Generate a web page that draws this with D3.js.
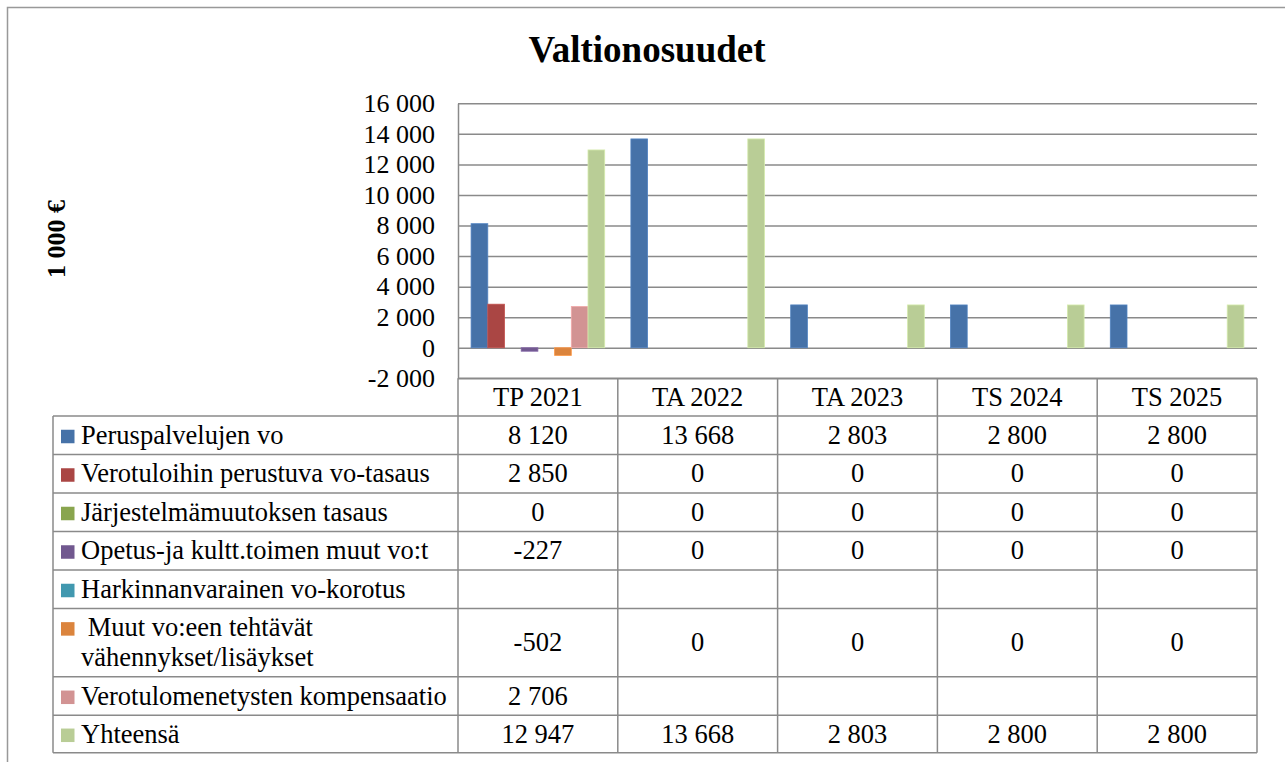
<!DOCTYPE html>
<html>
<head>
<meta charset="utf-8">
<script src="https://cdn.jsdelivr.net/npm/d3@7"></script>
<style>
  body { margin: 0; background: #fff; }
  svg text { font-family: "Liberation Serif", "Times New Roman", serif; fill: #000; }
</style>
</head>
<body>
<svg id="chart" width="1285" height="762"></svg>
<script>
// data
var categories = ["TP 2021", "TA 2022", "TA 2023", "TS 2024", "TS 2025"];
var seriesNames = [
    "Peruspalvelujen vo",
    "Verotuloihin perustuva vo-tasaus",
    "Järjestelmämuutoksen tasaus",
    "Opetus-ja kultt.toimen muut vo:t",
    "Harkinnanvarainen vo-korotus",
    " Muut vo:een tehtävät\nvähennykset/lisäykset",
    "Verotulomenetysten kompensaatio",
    "Yhteensä"
];
var peruspalvelut = [8120, 13668, 2803, 2800, 2800];
var verotuloTasaus = [2850, 0, 0, 0, 0];
var jarjestelmaTasaus = [0, 0, 0, 0, 0];
var opetusKulttuuri = [-227, 0, 0, 0, 0];
var harkinnanvarainen = [null, null, null, null, null];
var muutTehtavat = [-502, 0, 0, 0, 0];
var kompensaatio = [2706, null, null, null, null];
var yhteensa = [12947, 13668, 2803, 2800, 2800];
var yTicks = [-2000, 0, 2000, 4000, 6000, 8000, 10000, 12000, 14000, 16000];

var seriesValues = [peruspalvelut, verotuloTasaus, jarjestelmaTasaus, opetusKulttuuri,
    harkinnanvarainen, muutTehtavat, kompensaatio, yhteensa];
var colors = ["#4672A8", "#AA4644", "#89A54E", "#71588F", "#4198AF", "#DB843D", "#D29393", "#B9CD96"];

var svg = d3.select("#chart");
var lineColor = "#8a8a8a";
var fontSize = "26.5px";

var fmt = d3.formatLocale({decimal: ",", thousands: " ", grouping: [3], currency: ["", ""], minus: "-"}).format(",d");

// layout
var plotLeft = 458, plotRight = 1257;
var tableLeft = 53;
var rowHeights = [38.5, 38.5, 38.5, 38.5, 38.5, 68.3, 38.5, 37.5];

var y = d3.scaleLinear().domain([-2000, 16000]).range([378.3, 103.3]);
var x = d3.scaleBand().domain(categories).range([plotLeft, plotRight]);
var xs = d3.scaleBand().domain(d3.range(seriesNames.length)).range([0, x.bandwidth()]).paddingOuter(0.784);

// outer frame
svg.append("rect")
    .attr("x", 7.5).attr("y", 7.5)
    .attr("width", 1300).attr("height", 800)
    .attr("fill", "none").attr("stroke", "#999").attr("stroke-width", 1.5);

// title
svg.append("text")
    .attr("x", 647).attr("y", 62)
    .attr("text-anchor", "middle")
    .attr("font-size", "37px").attr("font-weight", "bold")
    .text("Valtionosuudet");

// y title
svg.append("text")
    .attr("transform", "translate(65,239) rotate(-90)")
    .attr("text-anchor", "middle")
    .attr("font-size", "26px").attr("font-weight", "bold")
    .text("1 000 €");

// y axis + grid
var yAxis = svg.append("g")
    .attr("transform", "translate(" + plotLeft + ",0)")
    .call(d3.axisLeft(y).tickValues(yTicks).tickFormat(fmt)
        .tickSize(-(plotRight - plotLeft)).tickSizeOuter(0).tickPadding(23));
yAxis.selectAll("line").attr("stroke", lineColor).attr("stroke-width", 1.5);
yAxis.select(".domain").attr("stroke", lineColor).attr("stroke-width", 1.5);
yAxis.selectAll("text")
    .attr("font-family", "Liberation Serif, Times New Roman, serif")
    .attr("font-size", "26px").attr("fill", "#000");

// bars
seriesValues.forEach(function (vals, s) {
    svg.append("g").selectAll("rect")
        .data(vals.map(function (v, i) { return {cat: categories[i], v: v}; })
            .filter(function (d) { return d.v !== null && d.v !== 0; }))
        .join("rect")
        .attr("x", function (d) { return x(d.cat) + xs(s); })
        .attr("width", xs.bandwidth())
        .attr("y", function (d) { return y(Math.max(0, d.v)); })
        .attr("height", function (d) { return Math.abs(y(d.v) - y(0)); })
        .attr("fill", colors[s])
        .attr("stroke", d3.color(colors[s]).brighter(0.4))
        .attr("stroke-width", 0.8);
});

// data table
var tableTop = y(-2000);
var headerBottom = 416;
var rowTops = [headerBottom];
rowHeights.forEach(function (h, i) { rowTops.push(rowTops[i] + h); });
var tableBottom = rowTops[rowTops.length - 1];

var grid = svg.append("g").attr("stroke", lineColor).attr("stroke-width", 1.5);
// header row lines
grid.append("line").attr("x1", plotLeft).attr("x2", plotRight).attr("y1", tableTop).attr("y2", tableTop);
categories.forEach(function (c) {
    grid.append("line").attr("x1", x(c) + x.bandwidth()).attr("x2", x(c) + x.bandwidth())
        .attr("y1", tableTop).attr("y2", tableBottom);
});
grid.append("line").attr("x1", plotLeft).attr("x2", plotLeft).attr("y1", tableTop).attr("y2", tableBottom);
grid.append("line").attr("x1", tableLeft).attr("x2", tableLeft).attr("y1", headerBottom).attr("y2", tableBottom);
rowTops.forEach(function (ry) {
    grid.append("line").attr("x1", tableLeft).attr("x2", plotRight).attr("y1", ry).attr("y2", ry);
});

// header labels
svg.append("g").selectAll("text")
    .data(categories)
    .join("text")
    .attr("x", function (d) { return x(d) + x.bandwidth() / 2; })
    .attr("y", (tableTop + headerBottom) / 2 + 8.5)
    .attr("text-anchor", "middle")
    .attr("font-size", fontSize)
    .text(function (d) { return d; });

// rows
seriesNames.forEach(function (name, s) {
    var top = rowTops[s], h = rowHeights[s], mid = top + h / 2;
    var lines = name.split("\n");
    var g = svg.append("g");
    var firstBase = mid + 8.5 - (lines.length - 1) * 15;
    g.append("rect")
        .attr("x", 61).attr("y", firstBase - 14)
        .attr("width", 13.5).attr("height", 13.5)
        .attr("fill", colors[s]);
    lines.forEach(function (ln, k) {
        g.append("text")
            .attr("x", 81).attr("y", firstBase + k * 30)
            .attr("font-size", fontSize)
            .attr("xml:space", "preserve")
            .style("white-space", "pre")
            .text(ln);
    });
    g.selectAll("text.val")
        .data(seriesValues[s])
        .join("text")
        .attr("class", "val")
        .attr("x", function (d, i) { return x(categories[i]) + x.bandwidth() / 2; })
        .attr("y", mid + 8.5)
        .attr("text-anchor", "middle")
        .attr("font-size", fontSize)
        .text(function (d) { return d === null ? "" : fmt(d); });
});
</script>
</body>
</html>
